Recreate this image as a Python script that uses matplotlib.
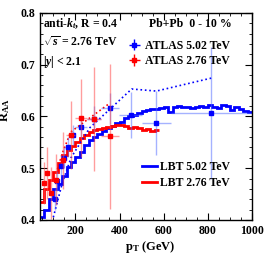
import numpy as np
import matplotlib
matplotlib.use("Agg")
import matplotlib.pyplot as plt
from matplotlib.lines import Line2D

plt.rcParams['font.family'] = ['Liberation Serif', 'DejaVu Serif']
plt.rcParams['font.weight'] = 'bold'
plt.rcParams['mathtext.fontset'] = 'custom'
plt.rcParams['mathtext.rm'] = 'Liberation Serif:bold'
plt.rcParams['mathtext.it'] = 'Liberation Serif:italic:bold'
plt.rcParams['mathtext.bf'] = 'Liberation Serif:bold'

# ATLAS 5.02 TeV
atlas5_x = [106, 119, 134, 150, 168, 189, 225, 283, 357, 450, 566, 816]
atlas5_xlo = [100, 112, 126, 141, 158, 178, 200, 251, 316, 398, 501, 631]
atlas5_xhi = [112, 126, 141, 158, 178, 200, 251, 316, 398, 501, 631, 1000]
atlas5_y = [0.44, 0.475, 0.505, 0.52, 0.541, 0.564, 0.58, 0.595, 0.616, 0.603, 0.588, 0.607]
atlas5_err = [0.02, 0.02, 0.02, 0.02, 0.02, 0.02, 0.02, 0.025, 0.03, 0.045, 0.062, 0.128]

# ATLAS 2.76 TeV
atlas2_x = [56, 71, 89, 113, 142, 179, 225, 283, 357]
atlas2_xlo = [50, 63, 80, 100, 126, 158, 200, 251, 316]
atlas2_xhi = [63, 80, 100, 126, 158, 200, 251, 316, 398]
atlas2_y = [0.471, 0.491, 0.452, 0.478, 0.515, 0.564, 0.597, 0.595, 0.562]
atlas2_err = [0.04, 0.05, 0.05, 0.05, 0.055, 0.066, 0.075, 0.10, 0.14]

# dotted curves
dot5_x = [100, 140, 180, 265, 455, 567, 815]
dot5_y = [0.405, 0.47, 0.52, 0.578, 0.653, 0.649, 0.674]
dot2_x = [113, 142, 179, 357]
dot2_y = [0.49, 0.53, 0.57, 0.626]

# LBT 5.02 TeV (bin edges and values)
lbt5_edges = list(range(40, 1001, 20))
lbt5_vals = [0.405, 0.42, 0.44, 0.46, 0.47, 0.485, 0.502, 0.512, 0.522, 0.532,
             0.545, 0.555, 0.56, 0.566, 0.572, 0.578, 0.582, 0.587, 0.59, 0.597,
             0.6, 0.603, 0.606, 0.61, 0.612, 0.614, 0.615, 0.617, 0.619, 0.609,
             0.619, 0.62, 0.618, 0.619, 0.617, 0.618, 0.62, 0.618, 0.622, 0.619,
             0.617, 0.622, 0.62, 0.612, 0.618, 0.615, 0.611, 0.608]

# LBT 2.76 TeV
lbt2_edges = list(range(40, 581, 20))
lbt2_vals = [0.435, 0.46, 0.478, 0.493, 0.51, 0.525, 0.535, 0.543, 0.55, 0.558,
             0.564, 0.569, 0.574, 0.576, 0.578, 0.579, 0.581, 0.583, 0.583, 0.582,
             0.578, 0.58, 0.577, 0.574, 0.576, 0.572, 0.573]

fig = plt.figure(figsize=(2.67, 2.59), dpi=100)
ax = fig.add_axes([0.15, 0.151, 0.794, 0.799])

blue = '#0000ff'
red = '#ff0000'

ax.stairs(lbt5_vals, lbt5_edges, color=blue, lw=2.0, baseline=None)
ax.stairs(lbt2_vals, lbt2_edges, color=red, lw=2.0, baseline=None)

ax.plot(dot5_x, dot5_y, color=blue, ls=':', lw=1.2)
ax.plot(dot2_x, dot2_y, color=red, ls=':', lw=1.2)

x5 = np.array(atlas5_x); x2 = np.array(atlas2_x)
ax.errorbar(atlas5_x, atlas5_y, yerr=atlas5_err,
            xerr=[x5 - np.array(atlas5_xlo), np.array(atlas5_xhi) - x5],
            fmt='none', ecolor=(0.3, 0.4, 1.0, 0.5), elinewidth=1.0)
ax.plot(atlas5_x, atlas5_y, 's', color=blue, ms=3.5, ls='none')
ax.errorbar(atlas2_x, atlas2_y, yerr=atlas2_err,
            xerr=[x2 - np.array(atlas2_xlo), np.array(atlas2_xhi) - x2],
            fmt='none', ecolor=(1.0, 0.3, 0.3, 0.55), elinewidth=1.0)
ax.plot(atlas2_x, atlas2_y, 's', color=red, ms=3.5, ls='none')

ax.set_xlim(40, 1000)
ax.set_ylim(0.4, 0.8)
ax.set_xticks([200, 400, 600, 800, 1000])
ax.set_yticks([0.4, 0.5, 0.6, 0.7, 0.8])
ax.set_xticks(np.arange(50, 1001, 50), minor=True)
ax.set_yticks(np.arange(0.4, 0.801, 0.02), minor=True)
ax.tick_params(which='both', direction='in', top=True, right=True, labelsize=8.5)
ax.tick_params(which='major', length=5, width=0.8)
ax.tick_params(which='minor', length=2.5, width=0.6)
for lab in ax.get_xticklabels() + ax.get_yticklabels():
    lab.set_fontweight('bold')
for s in ax.spines.values():
    s.set_linewidth(1.0)

ax.set_xlabel(r'p$_{\rm T}$ (GeV)', fontsize=9, fontweight='bold')
ax.xaxis.set_label_coords(0.52, -0.09)
ax.set_ylabel(r'R$_{\rm AA}$', fontsize=9, fontweight='bold')
ax.yaxis.set_label_coords(-0.13, 0.53)

ax.text(0.015, 0.947, r'anti-$k_t$, R = 0.4', transform=ax.transAxes, fontsize=8.5,
        fontweight='bold', va='center')
ax.text(0.015, 0.86, r'$\sqrt{s}$ = 2.76 TeV', transform=ax.transAxes, fontsize=8.5,
        fontweight='bold', va='center')
ax.text(0.015, 0.763, r'|$y$| < 2.1', transform=ax.transAxes, fontsize=8.5,
        fontweight='bold', va='center')
ax.text(0.905, 0.947, 'Pb+Pb  0 - 10 %', transform=ax.transAxes, fontsize=8.5,
        fontweight='bold', va='center', ha='right')

h1 = ax.errorbar([], [], yerr=[], xerr=[], fmt='s', color=blue, ms=3.5, ecolor=blue, elinewidth=1.0)
h2 = ax.errorbar([], [], yerr=[], xerr=[], fmt='s', color=red, ms=3.5, ecolor=red, elinewidth=1.0)
leg1 = ax.legend([h1, h2], ['ATLAS 5.02 TeV', 'ATLAS 2.76 TeV'], loc='upper right',
                 bbox_to_anchor=(0.93, 0.905), frameon=False, fontsize=8.5,
                 handlelength=1.2, handletextpad=0.3, borderaxespad=0.2, labelspacing=0.3)
ax.add_artist(leg1)
l1 = Line2D([], [], color=blue, lw=2)
l2 = Line2D([], [], color=red, lw=2)
ax.legend([l1, l2], ['LBT 5.02 TeV', 'LBT 2.76 TeV'], loc='lower right',
          bbox_to_anchor=(0.93, 0.115), frameon=False, fontsize=8.5,
          handlelength=1.2, handletextpad=0.3, borderaxespad=0.2, labelspacing=0.3)

fig.savefig('out.png', dpi=100)
